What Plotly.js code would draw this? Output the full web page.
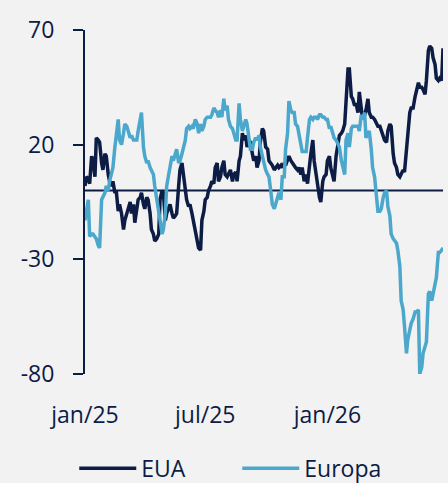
<!DOCTYPE html>
<html>
<head>
<meta charset="utf-8">
<script src="https://cdn.plot.ly/plotly-3.0.1.min.js"></script>
<style>
  html, body { margin: 0; padding: 0; background: #f2f2f2; }
  #chart { width: 448px; height: 483px; }
</style>
</head>
<body>
<div id="chart"></div>
<script>
// Sampling grid of the series (roughly every 2.5 days from 1 Jan 2025)
const startDate = '2025-01-01';
const stepDays = 2.523;

const seriesNames = ['EUA', 'Europa'];

const euaValues = [
  2, 6, 5, 3, 15, 13, 6, 23, 22, 21,
  12, 9, 16, 15, 7, 4, 2, 4, -1, 0,
  -9, -6, -10, -17, -13, -10, -7, -5, -10, -6,
  -14, -7, -4, -3, -1, -6, -8, -3, -4, -10,
  -17, -19, -22, -21, -19, -4, 0, -1, -13, -10,
  -7, -6, -10, -12, -11, -10, 2, 9, 12, 7,
  2, -4, -7, -6, -10, -13, -16, -22, -25, -26,
  -13, -9, -4, -3, 0, 2, 4, 3, 10, 12,
  4, 6, 10, 13, 7, 6, 7, 9, 4, 7,
  8, 4, 13, 15, 25, 22, 24, 19, 22, 21,
  16, 13, 15, 10, 13, 21, 27, 26, 19, 18,
  13, 12, 11, 9, 10, 11, 10, 11, 10, 12,
  11, 14, 15, 13, 12, 11, 10, 9, 10, 7,
  10, 4, 7, 3, 12, 16, 22, 13, 7, 2,
  -3, -5, 4, 6, 7, 13, 15, 10, 7, 4,
  15, 19, 24, 25, 26, 29, 41, 53, 53, 41,
  40, 37, 38, 34, 43, 35, 31, 33, 35, 40,
  34, 32, 32, 31, 29, 28, 28, 26, 23, 22,
  21, 26, 29, 28, 16, 12, 10, 7, 6, 7,
  9, 8, 19, 25, 34, 36, 36, 41, 44, 47,
  45, 45, 44, 42, 48, 61, 63, 62, 58, 55,
  49, 48, 49, 48, 62
];

const europaValues = [
  -13, -10, -4, -20, -19, -19, -20, -21, -24, -25,
  -4, -3, -1, 2, 0, 4, 7, 10, 19, 25,
  31, 22, 20, 25, 29, 28, 26, 23, 24, 22,
  22, 22, 26, 32, 34, 19, 15, 12, 13, 10,
  9, 7, 2, -3, -9, -13, -19, -17, -10, 2,
  7, 10, 15, 13, 16, 18, 12, 13, 16, 18,
  22, 27, 28, 27, 28, 27, 31, 29, 25, 29,
  26, 28, 31, 32, 32, 32, 33, 36, 35, 34,
  32, 35, 32, 40, 35, 37, 31, 28, 27, 25,
  22, 22, 38, 31, 26, 28, 31, 29, 21, 18,
  18, 21, 23, 22, 24, 19, 15, 12, 9, 7,
  6, -1, -6, -8, -6, -3, -1, -4, 6, 6,
  18, 25, 39, 35, 34, 34, 29, 28, 25, 21,
  17, 17, 17, 23, 31, 32, 31, 32, 32, 31,
  33, 33, 32, 32, 31, 31, 27, 28, 25, 23,
  22, 21, 19, 13, 10, 7, 22, 25, 19, 27,
  28, 28, 28, 28, 26, 33, 31, 34, 23, 25,
  26, 18, 10, 6, -3, -9, -9, -8, -3, -1,
  0, -7, -11, -19, -21, -22, -23, -26, -33, -48,
  -52, -59, -71, -65, -61, -58, -56, -53, -53, -52,
  -80, -77, -71, -68, -66, -45, -44, -48, -45, -42,
  -38, -27, -27, -26, -25
];

const xTickVals = ['2025-01-01', '2025-07-01', '2026-01-01'];
const xTickText = ['jan/25', 'jul/25', 'jan/26'];
const yTickVals = [-80, -30, 20, 70];
const yTickText = ['-80', '-30', '20', '70'];

function buildDates(n) {
  const t0 = Date.parse(startDate + 'T00:00:00Z');
  const out = [];
  for (let i = 0; i < n; i++) {
    out.push(new Date(t0 + i * stepDays * 86400000).toISOString().slice(0, 10));
  }
  return out;
}

const dates = buildDates(euaValues.length);
const navy = '#0c1c45';
const lightBlue = '#4ba7cb';
const font = 'Open Sans, sans-serif';

const traces = [
  {
    x: dates, y: euaValues, name: seriesNames[0], type: 'scatter', mode: 'lines',
    line: { color: navy, width: 3.5 }
  },
  {
    x: buildDates(europaValues.length), y: europaValues, name: seriesNames[1], type: 'scatter', mode: 'lines',
    line: { color: lightBlue, width: 3.5 }
  }
];

const layout = {
  width: 448, height: 483,
  paper_bgcolor: '#f2f2f2', plot_bgcolor: '#f2f2f2',
  margin: { l: 85, r: 5, t: 30, b: 109, autoexpand: false },
  font: { family: font, size: 23, color: navy },
  showlegend: true,
  legend: {
    orientation: 'h', x: -0.03, xanchor: 'left', y: -0.274, yanchor: 'middle',
    font: { family: font, size: 23, color: navy },
    itemwidth: 57, entrywidth: 91, entrywidthmode: 'pixels',
    bgcolor: 'rgba(0,0,0,0)', traceorder: 'normal'
  },
  xaxis: {
    type: 'date',
    range: [startDate, dates[dates.length - 1]],
    showgrid: false, zeroline: false, showline: false,
    ticks: '', tickvals: xTickVals, ticktext: xTickText,
    ticklabelstandoff: 25,
    tickfont: { family: font, size: 23, color: navy }
  },
  yaxis: {
    range: [-80, 70],
    showgrid: false, zeroline: false,
    showline: true, linecolor: navy, linewidth: 2,
    ticks: 'outside', ticklen: 10, tickwidth: 2, tickcolor: navy,
    tickvals: yTickVals, ticktext: yTickText,
    ticklabelstandoff: 14,
    tickfont: { family: font, size: 23, color: navy }
  },
  shapes: [
    { type: 'line', xref: 'paper', x0: 0, x1: 1, yref: 'y', y0: 0, y1: 0,
      line: { color: navy, width: 2 }, layer: 'below' }
  ]
};

Plotly.newPlot('chart', traces, layout, { staticPlot: true, displayModeBar: false });
</script>
</body>
</html>
